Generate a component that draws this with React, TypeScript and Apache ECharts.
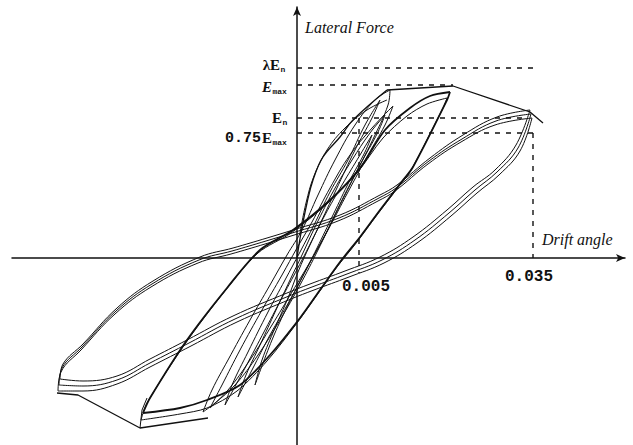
import React, { useEffect, useRef } from 'react';
import * as echarts from 'echarts';

// Data units: drawing units of the sketch (origin at the crossing of the axes).
const xRange = [-285, 328];
const yRange = [-187, 251];

// Reference levels (force) and drift ticks
const forceLevels = [190, 173, 140, 125]; // λEn, Emax, En, 0.75Emax
const forceLevelEnds = [241, 156, 228, 236];
const forceMain = ['λE', 'E', 'E', '0.75E'];
const forceSub = ['n', 'max', 'n', 'max'];
const driftTicks = [62, 236];
const driftTickTops = [140, 125];
const driftTickBottoms = [-15, 0];
const driftTickLabels = ['0.005', '0.035'];
const axisTitles = ['Lateral Force', 'Drift angle'];

// Skeleton / envelope
const envelopeRise = [[0, 0], [4, 25], [10, 55], [16, 78], [26, 101], [43, 121], [56, 138], [90, 168]];
const envelopeTop = [[90, 168], [156, 172], [233, 146], [246, 135]];
const envelopeBottom = [[-89, -160], [-157, -170], [-219, -137], [-240, -135]];

// Large cycles (three repetitions), descending branches
const bigDownA = [[233, 148], [219, 113], [198, 88], [176, 71], [150, 48], [116, 21], [83, 1], [48, -13], [13, -26], [-10, -35], [-64, -58], [-110, -82], [-147, -101], [-180, -118], [-214, -123], [-237, -121]];
const bigDownB = [[234, 144], [221, 110], [200, 86], [178, 68], [152, 45], [118, 18], [85, -2], [50, -16], [15, -29], [-8, -38], [-62, -61], [-108, -85], [-147, -105], [-180, -122], [-214, -128], [-238, -127]];
const bigDownC = [[235, 140], [223, 107], [202, 83], [180, 65], [154, 42], [120, 15], [87, -5], [52, -19], [17, -32], [-6, -41], [-60, -64], [-106, -88], [-147, -109], [-180, -126], [-214, -133], [-239, -133]];
// Large cycles, ascending branches
const bigUpA = [[-237, -121], [-234, -106], [-214, -86], [-180, -50], [-144, -23], [-97, 1], [-64, 10], [-30, 20], [-4, 28], [43, 43], [83, 63], [100, 73], [133, 100], [166, 123], [200, 141], [233, 148]];
const bigUpB = [[-238, -127], [-235, -110], [-215, -89], [-181, -53], [-145, -26], [-98, -2], [-65, 7], [-31, 17], [-5, 25], [42, 40], [82, 60], [99, 70], [132, 97], [165, 119], [199, 137], [234, 144]];
const bigUpC = [[-239, -133], [-236, -114], [-216, -92], [-182, -56], [-146, -29], [-99, -5], [-66, 4], [-32, 14], [-6, 22], [41, 37], [81, 57], [98, 67], [131, 94], [164, 116], [198, 133], [235, 140]];

// Medium cycles (peak at Emax)
const midDownA = [[153, 166], [150, 158], [116, 91], [106, 78], [83, 48], [63, 21], [43, -4], [23, -32], [3, -60], [-27, -97], [-57, -127], [-90, -142], [-117, -150], [-154, -155]];
const midUpA = [[-154, -155], [-147, -140], [-110, -82], [-70, -30], [-37, 8], [-4, 28], [33, 58], [63, 90], [88, 128], [113, 150], [133, 162], [153, 166]];
const midDownB = [[150, 160], [147, 152], [113, 86], [103, 73], [80, 43], [60, 16], [40, -9], [20, -37], [0, -65], [-30, -103], [-60, -133], [-90, -150], [-117, -156], [-156, -162]];
const midUpB = [[-156, -162], [-150, -145], [-112, -86], [-72, -33], [-39, 5], [-6, 25], [30, 54], [60, 85], [86, 120], [110, 142], [130, 154], [150, 160]];
const midUpC = [[-157, -170], [-155, -152], [-150, -140]];

// Small cycles around the origin
const smallDown1 = [[93, 168], [91, 153], [78, 123], [58, 83], [38, 43], [21, 8], [3, -27], [-17, -62], [-39, -97], [-62, -127], [-82, -145], [-94, -154]];
const smallUp1 = [[-94, -154], [-85, -132], [-69, -102], [-47, -62], [-27, -27], [-10, 3], [5, 28], [21, 63], [38, 98], [58, 133], [78, 158], [93, 168]];
const smallDown2 = [[96, 152], [88, 133], [71, 103], [51, 66], [31, 28], [13, -4], [-5, -34], [-25, -67], [-47, -102], [-69, -132], [-87, -150]];
const smallUp2 = [[-87, -150], [-75, -127], [-57, -92], [-35, -52], [-15, -17], [0, 10], [15, 36], [33, 70], [53, 103], [75, 130], [96, 152]];
const smallDown3 = [[88, 143], [81, 126], [63, 93], [45, 58], [28, 23], [10, -10], [-7, -42], [-27, -77], [-45, -112], [-59, -139]];
const smallUp3 = [[-59, -139], [-51, -117], [-37, -87], [-21, -52], [-7, -22], [5, 3], [19, 33], [37, 68], [55, 98], [73, 125], [88, 143]];
const smallDown4 = [[75, 123], [68, 106], [53, 78], [36, 43], [20, 10], [5, -20], [-9, -47], [-25, -82], [-42, -127]];
const smallUp4 = [[-42, -127], [-35, -102], [-22, -70], [-9, -40], [1, -14], [13, 13], [28, 43], [45, 73], [63, 103], [75, 123]];
const smallDown5 = [[83, 158], [75, 140], [58, 108], [39, 68], [21, 30], [5, -2], [-12, -34], [-32, -72], [-52, -110], [-72, -147]];
const smallUp5 = [[-72, -147], [-65, -127], [-49, -94], [-29, -54], [-12, -22], [3, 6], [17, 33], [33, 66], [51, 98], [68, 133], [83, 158]];
const smallUp6 = [[3, 25], [9, 55], [17, 82], [30, 108], [48, 130], [70, 148], [90, 158]];

const INK = '#111';

function curve(data: number[][], width = 1, smooth: number | boolean = 0.4) {
  return {
    type: 'line',
    data,
    showSymbol: false,
    symbol: 'none',
    smooth,
    silent: true,
    lineStyle: { color: INK, width },
    z: 3,
  };
}

function dashed(data: number[][]) {
  return {
    type: 'line',
    data,
    showSymbol: false,
    symbol: 'none',
    silent: true,
    lineStyle: { color: INK, width: 1.4, type: [5, 6] },
    z: 2,
  };
}

export default function App() {
  const ref = useRef<HTMLDivElement>(null);

  useEffect(() => {
    document.body.style.margin = '0';
    const chart = echarts.init(ref.current as HTMLDivElement, null, { renderer: 'svg' });

    const series: any[] = [];
    forceLevels.forEach((lv, i) => series.push(dashed([[0, lv], [forceLevelEnds[i], lv]])));
    driftTicks.forEach((t, i) => series.push(dashed([[t, driftTickTops[i]], [t, driftTickBottoms[i]]])));

    series.push(curve(envelopeRise, 1.3, 0.4));
    series.push(curve(envelopeTop, 1.3, false));
    series.push(curve(envelopeBottom, 1.3, false));

    [bigDownA, bigDownB, bigDownC].forEach((d) => series.push(curve(d, 1, 0.4)));
    [bigUpA, bigUpB, bigUpC].forEach((d) => series.push(curve(d, 1, 0.4)));

    series.push(curve(midDownA, 1.8, 0.3));
    series.push(curve(midUpA, 1.8, 0.3));
    series.push(curve(midDownB, 1, 0.3));
    series.push(curve(midUpB, 1, 0.3));
    series.push(curve(midUpC, 1, false));

    [smallDown1, smallUp1, smallDown2, smallUp2, smallDown3, smallUp3, smallDown4, smallUp4, smallDown5, smallUp5, smallUp6].forEach((d) =>
      series.push(curve(d, 1, 0.4))
    );

    // label layout (pixels)
    const mainRight = [280, 272, 282, 272];
    const mainY = [65, 87, 118, 138];
    const graphic: any[] = [];
    forceMain.forEach((m, i) => {
      if (m.startsWith('0.75')) {
        graphic.push({
          type: 'text', x: mainRight[i] - 11, y: mainY[i],
          style: { text: '0.75', fontFamily: 'Liberation Mono', fontWeight: 'bold', fontSize: 15, fill: INK, align: 'right', verticalAlign: 'middle' },
        });
        graphic.push({
          type: 'text', x: mainRight[i], y: mainY[i],
          style: { text: 'E', fontFamily: 'Liberation Serif', fontWeight: 'bold', fontSize: 15, fill: INK, align: 'right', verticalAlign: 'middle' },
        });
      } else {
        graphic.push({
          type: 'text', x: mainRight[i], y: mainY[i],
          style: { text: m, fontFamily: 'Liberation Serif', fontWeight: 'bold', fontStyle: i === 1 ? 'italic' : 'normal', fontSize: 15, fill: INK, align: 'right', verticalAlign: 'middle' },
        });
      }
      graphic.push({
        type: 'text', x: mainRight[i] + 0.5, y: mainY[i] + 4,
        style: { text: forceSub[i], fontFamily: 'Liberation Mono', fontWeight: 'bold', fontSize: 8, fill: INK, align: 'left', verticalAlign: 'middle' },
      });
    });

    const tickLabelPos = [[366, 287], [529, 277]];
    driftTickLabels.forEach((t, i) => {
      graphic.push({
        type: 'text', x: tickLabelPos[i][0], y: tickLabelPos[i][1],
        style: { text: t, fontFamily: 'Liberation Mono', fontWeight: 'bold', fontSize: 16, fill: INK, align: 'center', verticalAlign: 'middle' },
      });
    });

    graphic.push({
      type: 'text', x: 305, y: 27,
      style: { text: axisTitles[0], fontFamily: 'Liberation Serif', fontStyle: 'italic', fontSize: 16, fill: INK, align: 'left', verticalAlign: 'middle' },
    });
    graphic.push({
      type: 'text', x: 542, y: 239,
      style: { text: axisTitles[1], fontFamily: 'Liberation Serif', fontStyle: 'italic', fontSize: 16, fill: INK, align: 'left', verticalAlign: 'middle' },
    });

    const axisCommon = {
      type: 'value',
      axisLabel: { show: false },
      axisTick: { show: false },
      splitLine: { show: false },
      axisLine: { show: true, onZero: true, symbol: ['none', 'arrow'], symbolSize: [6, 9], lineStyle: { color: INK, width: 1.5 } },
    };

    chart.setOption({
      animation: false,
      backgroundColor: '#fff',
      grid: { left: 12, right: 8, top: 7, bottom: 0, containLabel: false },
      xAxis: { ...axisCommon, min: xRange[0], max: xRange[1] },
      yAxis: { ...axisCommon, min: yRange[0], max: yRange[1] },
      series,
      graphic,
    });

    return () => chart.dispose();
  }, []);

  return <div ref={ref} style={{ width: 633, height: 445 }} />;
}
